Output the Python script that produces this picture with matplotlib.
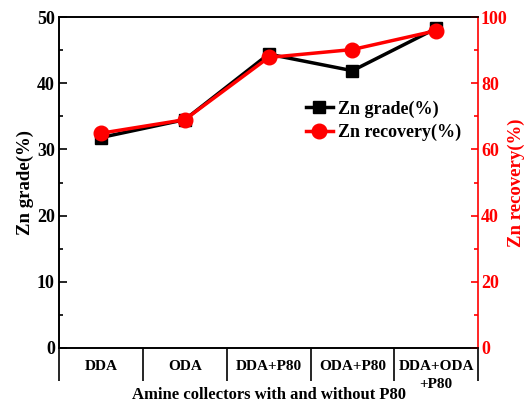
import numpy as np
import matplotlib
matplotlib.use('Agg')
import matplotlib.pyplot as plt
from matplotlib.lines import Line2D

plt.rcParams.update({
    'font.family': ['Liberation Serif', 'DejaVu Serif'],
    'font.weight': 'bold',
    'axes.labelweight': 'bold',
    'axes.linewidth': 1.2,
})

# Data
categories = ['DDA', 'ODA', 'DDA+P80', 'ODA+P80', 'DDA+ODA\n+P80']
zn_grade = [31.8, 34.5, 44.4, 41.9, 48.3]
zn_recovery = [64.9, 69.0, 87.8, 90.2, 95.9]

RED = '#ff0000'

fig = plt.figure(figsize=(5.24, 4.07), dpi=100)
ax = fig.add_axes([0.1126, 0.145, 0.8, 0.813])
ax2 = ax.twinx()

x = np.arange(1, len(categories) + 1)

ax.plot(x, zn_grade, color='black', lw=2.5, marker='s', ms=8, zorder=3)
ax2.plot(x, zn_recovery, color=RED, lw=2.5, marker='o', ms=10.5, zorder=3)

ax.set_xlim(0.5, len(categories) + 0.5)
ax.set_ylim(0, 50)
ax2.set_ylim(0, 100)
ax.set_yticks(np.arange(0, 51, 10))
ax.set_yticks(np.arange(5, 50, 10), minor=True)
ax2.set_yticks(np.arange(0, 101, 20))
ax2.set_yticks(np.arange(10, 100, 20), minor=True)

# category boundaries as long ticks, labels centred between them
ax.set_xticks(np.arange(0.5, len(categories) + 1, 1))
ax.set_xticklabels([])
ax.tick_params(axis='x', which='major', direction='out', length=24, width=1.2)
ax.set_xticks(x, minor=True)
ax.set_xticklabels(categories, minor=True, fontsize=11, fontweight='bold',
                   va='top', linespacing=1.45)
ax.tick_params(axis='x', which='minor', length=0, pad=9)

ax.tick_params(axis='y', which='major', direction='in', length=6, width=1.2,
               labelsize=13, pad=3)
ax.tick_params(axis='y', which='minor', direction='in', length=3, width=1.2)
ax2.tick_params(axis='y', which='major', direction='in', length=5, width=1.2,
                labelsize=13, colors=RED, pad=2)
ax2.tick_params(axis='y', which='minor', direction='in', length=3, width=1.2,
                colors=RED)
for lbl in ax.get_yticklabels() + ax2.get_yticklabels():
    lbl.set_fontweight('bold')

ax2.spines['right'].set_color(RED)
ax.spines['right'].set_visible(False)

ax.set_ylabel('Zn grade(%)', fontsize=13.5, labelpad=2)
ax2.set_ylabel('Zn recovery(%)', fontsize=13.5, color=RED, labelpad=0)
ax.set_xlabel('Amine collectors with and without P80', fontsize=12, labelpad=-3)

handles = [Line2D([], [], color='black', lw=2.5, marker='s', ms=8),
           Line2D([], [], color=RED, lw=2.5, marker='o', ms=10.5)]
ax.legend(handles, ['Zn grade(%)', 'Zn recovery(%)'], loc='upper left',
          bbox_to_anchor=(0.55, 0.797), frameon=False, handlelength=1.5,
          handletextpad=0.3, labelspacing=0.35,
          prop={'family': 'Liberation Serif', 'weight': 'bold', 'size': 13})

fig.savefig('out.png', dpi=100)
